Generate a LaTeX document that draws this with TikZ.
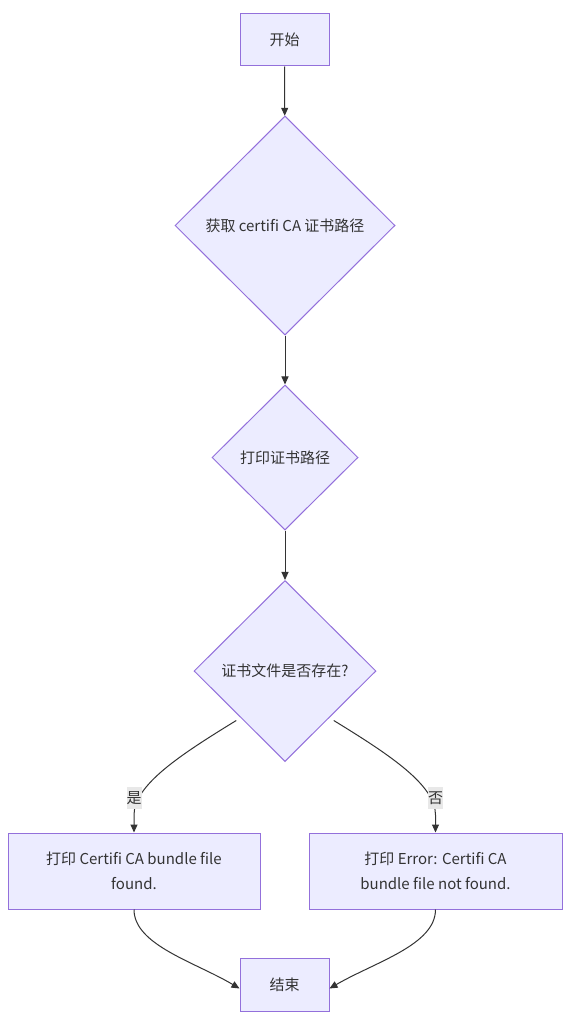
\documentclass[tikz,border=0pt]{standalone}
\usepackage{fontspec}
\setmainfont{Noto Sans CJK SC}
\usetikzlibrary{shapes.geometric,arrows.meta}
\definecolor{nfill}{HTML}{ECECFF}
\definecolor{nline}{HTML}{9370DB}
\definecolor{eline}{HTML}{333333}
\definecolor{lblbg}{HTML}{E8E8E8}
\definecolor{txt}{HTML}{333333}
\begin{document}
\begin{tikzpicture}[x=1pt,y=-1pt,
  box/.style={draw=nline,fill=nfill,line width=1pt,rectangle,inner sep=0pt,text=txt,font=\fontsize{15}{25}\selectfont,align=center},
  dia/.style={draw=nline,fill=nfill,line width=1pt,diamond,aspect=1,inner sep=0pt,text=txt,font=\fontsize{15}{25}\selectfont},
  arr/.style={draw=eline,line width=1pt,-{Triangle[length=8pt,width=7pt]}},
  lbl/.style={fill=lblbg,inner sep=0pt,minimum width=15pt,minimum height=22pt,text=txt,font=\fontsize{15}{18}\selectfont}]
\useasboundingbox (0,0) rectangle (570,1025);
\fill[white] (0,0) rectangle (570,1025);
\node[box,minimum width=89pt,minimum height=52pt] (start) at (284.5,40) {开始};
\node[dia,minimum width=220pt,minimum height=219pt] (d1) at (285,225.5) {获取 certifi CA 证书路径};
\node[dia,minimum width=146pt,minimum height=145pt] (d2) at (285,457.5) {打印证书路径};
\node[dia,minimum width=182pt,minimum height=181pt] (d3) at (285,671) {证书文件是否存在?};
\node[box,minimum width=252pt,minimum height=76pt] (bl) at (134,871) {打印 Certifi CA bundle file\\found.};
\node[box,minimum width=253pt,minimum height=76pt] (br) at (435.5,871) {打印 Error: Certifi CA\\bundle file not found.};
\node[box,minimum width=89pt,minimum height=53pt] (end) at (284.5,984.5) {结束};
\draw[arr] (start) -- (d1);
\draw[arr] (d1) -- (d2);
\draw[arr] (d2) -- (d3);
\draw[arr] ([shift={(-3pt,-4pt)}]d3.south west) .. controls (180,755) and (134,785) .. (134,815) -- (bl.north);
\draw[arr] ([shift={(3pt,-4pt)}]d3.south east) .. controls (390,755) and (435.5,785) .. (435.5,815) -- (br.north);
\node[lbl] (lyes) at (134,798) {是};
\node[lbl] (lno) at (435.5,798) {否};
\draw[arr] (bl.south) .. controls (134,945) and (195,962) .. ([yshift=-4pt]end.west);
\draw[arr] (br.south) .. controls (435.5,945) and (375,962) .. ([yshift=-4pt]end.east);
\end{tikzpicture}
\end{document}
